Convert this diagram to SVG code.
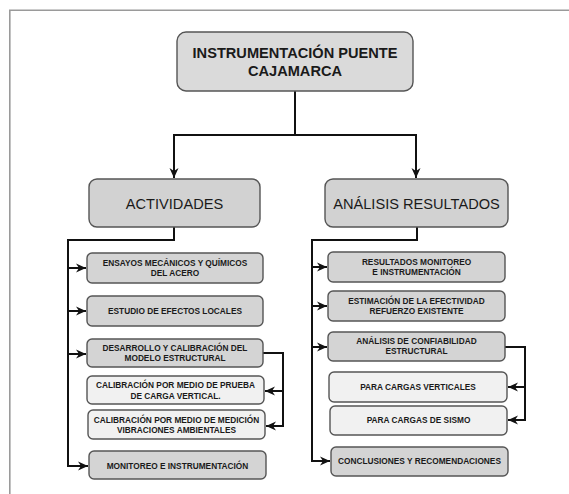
<svg xmlns="http://www.w3.org/2000/svg" width="569" height="494" viewBox="0 0 569 494">
  <style>
    .frame { fill: none; stroke: #9a9a9a; stroke-width: 1.6; }
    .box { stroke: #555; stroke-width: 1.4; }
    .head { fill: #dadada; }
    .main { fill: #d2d2d2; }
    .dark { fill: #d4d4d4; }
    .light { fill: #f1f1f1; }
    .link { fill: none; stroke: #111; stroke-width: 2; marker-end: url(#arrow); }
    .title { font-family: "Liberation Sans", Arial, sans-serif; font-weight: bold; font-size: 14.6px; fill: #1a1a1a; text-anchor: middle; }
    .big { font-family: "Liberation Sans", Arial, sans-serif; font-size: 14.6px; fill: #1a1a1a; text-anchor: middle; }
    .small { font-family: "Liberation Sans", Arial, sans-serif; font-weight: bold; font-size: 8.3px; fill: #1a1a1a; text-anchor: middle; }
  </style>
  <defs>
    <marker id="arrow" markerUnits="userSpaceOnUse" markerWidth="12" markerHeight="12" viewBox="0 0 12 12" refX="11" refY="6" orient="auto">
      <path d="M1,1.5 L11,6 L1,10.5 L4,6 z" fill="#111"/>
    </marker>
  </defs>

  <rect width="569" height="494" fill="#fff"/>
  <!-- outer frame, open on the right and bottom -->
  <path class="frame" d="M9.8,494 V10.3 H569"/>

  <g id="connectors">
    <path class="link" d="M295,91 V135 H174 V178"/>
    <path class="link" d="M295,135 H416 V178"/>
    <!-- actividades trunk -->
    <path class="link" d="M174,227 V240 H68 V268 H86"/>
    <path class="link" d="M68,268 V311 H86"/>
    <path class="link" d="M68,311 V354 H86"/>
    <path class="link" d="M68,354 V466 H88"/>
    <path class="link" d="M263,353 H283 V391 H265"/>
    <path class="link" d="M283,391 V426 H266"/>
    <!-- análisis trunk -->
    <path class="link" d="M417,227 V240 H312 V267 H327"/>
    <path class="link" d="M312,267 V306 H327"/>
    <path class="link" d="M312,306 V347 H327"/>
    <path class="link" d="M312,347 V461 H330"/>
    <path class="link" d="M505,347 H525 V387 H508"/>
    <path class="link" d="M525,387 V420 H508"/>
  </g>

  <g id="instrumentacion">
    <rect class="box head" x="177" y="32" width="236" height="59" rx="9"/>
    <text class="title" x="295" y="58">INSTRUMENTACIÓN PUENTE</text>
    <text class="title" x="295" y="76">CAJAMARCA</text>
  </g>

  <g id="actividades">
    <rect class="box main" x="89" y="179" width="171" height="48" rx="8"/>
    <text class="big" x="174.5" y="209">ACTIVIDADES</text>
  </g>

  <g id="analisis-resultados">
    <rect class="box main" x="325" y="179" width="183" height="48" rx="8"/>
    <text class="big" x="416.5" y="209">ANÁLISIS RESULTADOS</text>
  </g>

  <g id="ensayos">
    <rect class="box dark" x="87" y="253" width="176" height="30" rx="5"/>
    <text class="small" x="175" y="266.3">ENSAYOS MECÁNICOS Y QUÍMICOS</text>
    <text class="small" x="175" y="276.3">DEL ACERO</text>
  </g>

  <g id="efectos-locales">
    <rect class="box dark" x="87" y="296" width="176" height="30" rx="5"/>
    <text class="small" x="175" y="314">ESTUDIO DE EFECTOS LOCALES</text>
  </g>

  <g id="modelo-estructural">
    <rect class="box dark" x="87" y="339" width="176" height="28" rx="5"/>
    <text class="small" x="175" y="351.3">DESARROLLO Y CALIBRACIÓN DEL</text>
    <text class="small" x="175" y="361.3">MODELO ESTRUCTURAL</text>
  </g>

  <g id="prueba-carga">
    <rect class="box light" x="87" y="376" width="177" height="28" rx="5"/>
    <text class="small" x="175.5" y="388">CALIBRACIÓN POR MEDIO DE PRUEBA</text>
    <text class="small" x="175.5" y="398.7">DE CARGA VERTICAL.</text>
  </g>

  <g id="vibraciones">
    <rect class="box light" x="88" y="410" width="177" height="29" rx="5"/>
    <text class="small" x="176.5" y="423">CALIBRACIÓN POR MEDIO DE MEDICIÓN</text>
    <text class="small" x="176.5" y="433">VIBRACIONES AMBIENTALES</text>
  </g>

  <g id="monitoreo">
    <rect class="box dark" x="89" y="451" width="177" height="28" rx="5"/>
    <text class="small" x="177.5" y="469">MONITOREO E INSTRUMENTACIÓN</text>
  </g>

  <g id="resultados-monitoreo">
    <rect class="box dark" x="328" y="252" width="177" height="30" rx="5"/>
    <text class="small" x="416.5" y="264.7">RESULTADOS MONITOREO</text>
    <text class="small" x="416.5" y="274.7">E INSTRUMENTACIÓN</text>
  </g>

  <g id="efectividad-refuerzo">
    <rect class="box dark" x="328" y="291" width="177" height="30" rx="5"/>
    <text class="small" x="416.5" y="303.7">ESTIMACIÓN DE LA EFECTIVIDAD</text>
    <text class="small" x="416.5" y="313.7">REFUERZO EXISTENTE</text>
  </g>

  <g id="confiabilidad">
    <rect class="box dark" x="328" y="332" width="177" height="29" rx="5"/>
    <text class="small" x="416.5" y="343.7">ANÁLISIS DE CONFIABILIDAD</text>
    <text class="small" x="416.5" y="353.7">ESTRUCTURAL</text>
  </g>

  <g id="cargas-verticales">
    <rect class="box light" x="329" y="372" width="178" height="30" rx="5"/>
    <text class="small" x="418" y="389.7">PARA CARGAS VERTICALES</text>
  </g>

  <g id="cargas-sismo">
    <rect class="box light" x="330" y="406" width="177" height="29" rx="5"/>
    <text class="small" x="418.5" y="423">PARA CARGAS DE SISMO</text>
  </g>

  <g id="conclusiones">
    <rect class="box dark" x="331" y="447" width="177" height="29" rx="5"/>
    <text class="small" x="419.5" y="464">CONCLUSIONES Y RECOMENDACIONES</text>
  </g>
</svg>
